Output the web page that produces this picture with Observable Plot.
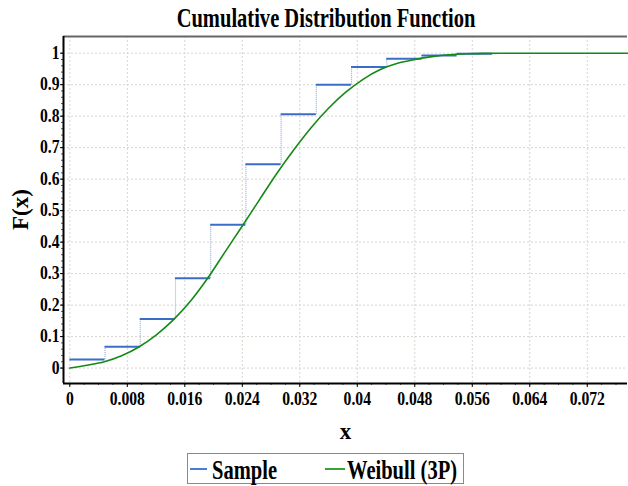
<!DOCTYPE html>
<html>
<head>
<meta charset="utf-8">
<script src="https://cdn.jsdelivr.net/npm/d3@7"></script>
<script src="https://cdn.jsdelivr.net/npm/@observablehq/plot@0.6"></script>
<style>
  body { margin: 0; background: #fff; font-family: "Liberation Serif", "Times New Roman", serif; }
  #wrap { position: relative; width: 628px; height: 486px; overflow: hidden; }
  #title { position: relative; height: 30px; }
  #title span { position: absolute; left: 326px; top: 5px; font-size: 27px; line-height: 27px; font-weight: bold;
    white-space: nowrap; transform: translateX(-50%) scaleX(0.76); }
  #chart { position: relative; height: 416px; }
  #legend { position: absolute; left: 187px; top: 453px; width: 275px; height: 29px; border: 1px solid #8a8a8a; }
  #legend .sw { position: absolute; top: 14px; height: 2px; }
  #legend .lb { position: absolute; top: 3px; font-size: 27px; line-height: 27px; font-weight: bold; white-space: nowrap;
    transform-origin: 0 50%; transform: scaleX(0.76); }
</style>
</head>
<body>
<div id="wrap">
  <div id="title"><span>Cumulative Distribution Function</span></div>
  <div id="chart"></div>
  <div id="legend">
    <div class="sw" style="left:2px;width:17px;background:#4a7fd0"></div>
    <div class="lb" style="left:24px">Sample</div>
    <div class="sw" style="left:137px;width:20px;background:#3aa03a"></div>
    <div class="lb" style="left:159px">Weibull (3P)</div>
  </div>
</div>
<script>
// ---- data ----
const stepEdges  = [0, 0.0049, 0.0098, 0.0147, 0.0196, 0.0245, 0.0294, 0.0343, 0.0392, 0.0441, 0.049, 0.0539, 0.0588];
const stepLevels = [0.027, 0.068, 0.156, 0.285, 0.455, 0.647, 0.806, 0.900, 0.956, 0.982, 0.993, 0.998];

const fitX = [0, 0.0024, 0.0048, 0.0072, 0.0096, 0.012, 0.0144, 0.0168, 0.0192, 0.0216, 0.024, 0.0264, 0.0288,
              0.0312, 0.0336, 0.036, 0.0384, 0.0408, 0.0432, 0.0456, 0.048, 0.0504, 0.0528, 0.0552, 0.0576, 0.06, 0.0776];
const fitF = [0, 0.009, 0.020, 0.039, 0.067, 0.105, 0.153, 0.213, 0.286, 0.369, 0.451, 0.535, 0.618,
              0.694, 0.764, 0.825, 0.876, 0.917, 0.948, 0.968, 0.980, 0.989, 0.995, 0.998, 0.9995, 1, 1];

const xTicks = [0, 0.008, 0.016, 0.024, 0.032, 0.04, 0.048, 0.056, 0.064, 0.072];
const xTickLabels = ["0", "0.008", "0.016", "0.024", "0.032", "0.04", "0.048", "0.056", "0.064", "0.072"];
const yTicks = [0, 0.1, 0.2, 0.3, 0.4, 0.5, 0.6, 0.7, 0.8, 0.9, 1];
const yTickLabels = ["0", "0.1", "0.2", "0.3", "0.4", "0.5", "0.6", "0.7", "0.8", "0.9", "1"];

const xDomain = [-0.00088, 0.0776];
const yDomain = [-0.049, 1.053];

// ---- derived tables ----
const horiz = stepLevels.map((v, i) => ({x1: stepEdges[i], x2: stepEdges[i + 1], y: v}));
const vert = stepLevels.slice(1).map((v, i) => ({x: stepEdges[i + 1], y1: stepLevels[i], y2: v}));
const fit = fitX.map((x, i) => ({x, y: fitF[i]}));
const xMinor = d3.range(0, 0.0777, 0.002);
const yMinor = d3.range(0, 1.0001, 0.02);

const gridColor = "#d6d6cf";
const chart = Plot.plot({
  width: 628, height: 416,
  marginTop: 6, marginLeft: 63, marginRight: 1, marginBottom: 63,
  style: {fontFamily: "'Liberation Serif', 'Times New Roman', serif", fontSize: "18px", fontWeight: "bold", color: "#000", background: "#fff", overflow: "visible"},
  x: {domain: xDomain},
  y: {domain: yDomain},
  marks: [
    Plot.gridX(xTicks, {stroke: gridColor, strokeOpacity: 1, strokeDasharray: "2,2"}),
    Plot.gridY(yTicks, {stroke: gridColor, strokeOpacity: 1, strokeDasharray: "2,2"}),
    Plot.axisX({ticks: xMinor, tickSize: 2, tickFormat: () => "", label: null, stroke: "#555"}),
    Plot.axisY({ticks: yMinor, tickSize: 2, tickFormat: () => "", label: null, stroke: "#555"}),
    Plot.axisX({ticks: xTicks, tickSize: 4, tickPadding: 5, tickFormat: (d) => xTickLabels[xTicks.indexOf(d)], label: null, fontSize: 18, fontWeight: "bold"}),
    Plot.axisY({ticks: yTicks, tickSize: 3, tickPadding: 1, tickFormat: (d) => yTickLabels[yTicks.indexOf(d)], label: null, fontSize: 18, fontWeight: "bold"}),
    Plot.ruleY([yDomain[1]], {stroke: "#666", strokeWidth: 2}),
    Plot.ruleX([xDomain[0]], {stroke: "#000", strokeWidth: 2}),
    Plot.ruleY([yDomain[0]], {stroke: "#000", strokeWidth: 2}),
    Plot.ruleX(vert, {x: "x", y1: "y1", y2: "y2", stroke: "#8fb0e8", strokeWidth: 1.2, strokeDasharray: "1,1"}),
    Plot.ruleY(horiz, {x1: "x1", x2: "x2", y: "y", stroke: "#3a6cc8", strokeWidth: 2}),
    Plot.line(fit, {x: "x", y: "y", stroke: "#148a14", strokeWidth: 1.6, curve: "monotone-x"}),
    Plot.text(["x"], {frameAnchor: "bottom", dy: 55, fontSize: 23, fontWeight: "bold", ariaLabel: "xlabel"}),
    Plot.text(["F(x)"], {frameAnchor: "left", dx: -43, dy: 20, rotate: -90, fontSize: 23, fontWeight: "bold", ariaLabel: "ylabel"})
  ]
});
document.getElementById("chart").appendChild(chart);

// drop the empty labels of the minor-tick axes
chart.querySelectorAll("text").forEach(t => { if (t.textContent === "") t.remove(); });

// condense serif text horizontally, like the reference
function condense(sel, sx) {
  chart.querySelectorAll(sel).forEach(t => {
    const xa = t.getAttribute("x");
    let tr = t.getAttribute("transform") || "";
    if (xa != null && xa !== "" && !isNaN(+xa)) { t.removeAttribute("x"); tr += ` translate(${+xa},0)`; }
    t.setAttribute("transform", `${tr} scale(${sx},1)`);
  });
}
condense('g[aria-label="x-axis tick label"] text', 0.87);
condense('g[aria-label="y-axis tick label"] text', 0.87);
condense('g[aria-label="xlabel"] text', 0.76);
condense('g[aria-label="ylabel"] text', 0.95);
</script>
</body>
</html>
